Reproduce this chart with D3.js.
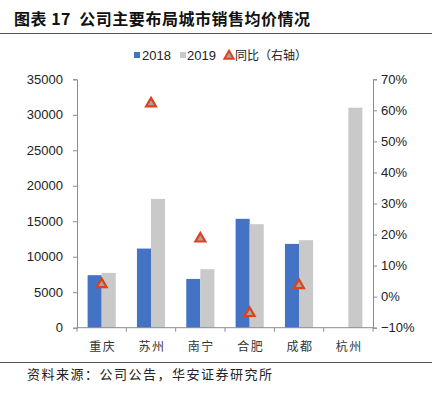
<!DOCTYPE html>
<html>
<head>
<meta charset="utf-8">
<script src="https://cdn.jsdelivr.net/npm/d3@7"></script>
<style>
  html, body { margin: 0; padding: 0; background: #fff; }
  svg { display: block; }
  .tick text { font-family: "Liberation Sans", Arial, sans-serif; font-size: 13px; fill: #222; }
</style>
</head>
<body>
<div id="chart"></div>
<script>
// chart data
const cities = ['重庆', '苏州', '南宁', '合肥', '成都', '杭州'];
const price2018 = [7400, 11150, 6870, 15340, 11810, 0];
const price2019 = [7720, 18150, 8240, 14590, 12330, 31000];
const yoy = [0.043, 0.625, 0.19, -0.05, 0.04, null];
const leftTicks = [0, 5000, 10000, 15000, 20000, 25000, 30000, 35000];
const rightTicks = [-0.1, 0, 0.1, 0.2, 0.3, 0.4, 0.5, 0.6, 0.7];

const W = 432, H = 394;
const blue = '#4472C4', grey = '#C9C9C9', red = '#E0401A', axisCol = '#8c8c8c';

const svg = d3.select('#chart').append('svg').attr('width', W).attr('height', H);

// title + rules
svg.append('text')
  .attr('x', 14).attr('y', 25)
  .attr('textLength', 296).attr('lengthAdjust', 'spacing')
  .style('white-space', 'pre')
  .style('font-family', '"Noto Sans CJK SC", sans-serif')
  .style('font-weight', 'bold').style('font-size', '16px').style('fill', '#111')
  .text('图表 17  公司主要布局城市销售均价情况');
svg.append('line').attr('x1', 0).attr('x2', W).attr('y1', 33.5).attr('y2', 33.5)
  .attr('stroke', '#555').attr('stroke-width', 1.2);
svg.append('line').attr('x1', 0).attr('x2', W).attr('y1', 362.5).attr('y2', 362.5)
  .attr('stroke', '#555').attr('stroke-width', 1.2);
svg.append('text')
  .attr('x', 27).attr('y', 379)
  .attr('textLength', 245).attr('lengthAdjust', 'spacing')
  .style('font-family', '"Noto Sans CJK SC", sans-serif')
  .style('font-size', '13px').style('fill', '#222')
  .text('资料来源：公司公告，华安证券研究所');

// scales
const x = d3.scaleBand().domain(cities).range([77, 373]);
const yL = d3.scaleLinear().domain([0, 35000]).range([327.7, 79.3]);
const yR = d3.scaleLinear().domain([-0.1, 0.7]).range([327.7, 79.3]);
const gw = x.bandwidth() * 0.57;
const x1 = d3.scaleBand().domain(['2018', '2019']).range([(x.bandwidth() - gw) / 2, (x.bandwidth() + gw) / 2]);

// axes
const axL = svg.append('g').attr('transform', 'translate(77,0)')
  .call(d3.axisLeft(yL).tickValues(leftTicks).tickSize(4).tickPadding(10).tickFormat(d3.format('d')));
const axR = svg.append('g').attr('transform', 'translate(373,0)')
  .call(d3.axisRight(yR).tickValues(rightTicks).tickSize(4).tickPadding(4).tickFormat(d3.format('.0%')));
[axL, axR].forEach(a => {
  a.select('.domain').attr('stroke', axisCol);
  a.selectAll('.tick line').attr('stroke', axisCol);
});

// bars
const groups = svg.append('g').selectAll('g').data(cities).join('g')
  .attr('transform', d => `translate(${x(d)},0)`);
groups.append('rect')
  .attr('x', x1('2018')).attr('width', x1.bandwidth())
  .attr('y', (d, i) => yL(price2018[i])).attr('height', (d, i) => yL(0) - yL(price2018[i]))
  .attr('fill', blue);
groups.append('rect')
  .attr('x', x1('2019')).attr('width', x1.bandwidth())
  .attr('y', (d, i) => yL(price2019[i])).attr('height', (d, i) => yL(0) - yL(price2019[i]))
  .attr('fill', grey);

// x axis
const axB = svg.append('g').attr('transform', `translate(0,${yL(0)})`);
axB.append('line').attr('x1', 77).attr('x2', 373).attr('stroke', axisCol);
axB.selectAll('.tk').data(d3.range(cities.length + 1)).join('line')
  .attr('x1', i => 77 + i * x.step()).attr('x2', i => 77 + i * x.step())
  .attr('y1', 0).attr('y2', 4).attr('stroke', axisCol);
axB.selectAll('.cat').data(cities).join('text')
  .attr('x', d => x(d) + x.bandwidth() / 2 + 1).attr('y', 23)
  .attr('text-anchor', 'middle')
  .style('font-family', '"Noto Sans CJK SC", sans-serif').style('font-size', '12px')
  .style('letter-spacing', '1.5px').style('fill', '#333')
  .text(d => d);

// yoy triangles
const tri = d3.symbol().type(d3.symbolTriangle).size(42);
svg.append('g').selectAll('path').data(cities.filter((d, i) => yoy[i] !== null)).join('path')
  .attr('d', tri)
  .attr('transform', (d, i) => `translate(${x(d) + x.bandwidth() / 2},${yR(yoy[i]) + 1})`)
  .attr('fill', '#A5A5A5').attr('stroke', red).attr('stroke-width', 2.2)
  .attr('stroke-linejoin', 'miter');

// legend
const lg = svg.append('g').attr('transform', 'translate(0,55)');
const lgFont = g => g.style('font-family', '"Liberation Sans", Arial, sans-serif').style('font-size', '13px').style('fill', '#222');
lg.append('rect').attr('x', 134).attr('y', -3).attr('width', 6).attr('height', 6).attr('fill', blue);
lg.append('text').attr('x', 142).attr('y', 5).text('2018').call(lgFont);
lg.append('rect').attr('x', 180).attr('y', -3).attr('width', 6).attr('height', 6).attr('fill', grey);
lg.append('text').attr('x', 187).attr('y', 5).text('2019').call(lgFont);
lg.append('path').attr('d', d3.symbol().type(d3.symbolTriangle).size(36))
  .attr('transform', 'translate(229,1)')
  .attr('fill', '#A5A5A5').attr('stroke', red).attr('stroke-width', 2);
lg.append('text').attr('x', 235).attr('y', 5)
  .style('font-family', '"Noto Sans CJK SC", sans-serif').style('font-size', '12px').style('fill', '#222')
  .text('同比（右轴）');
</script>
</body>
</html>
